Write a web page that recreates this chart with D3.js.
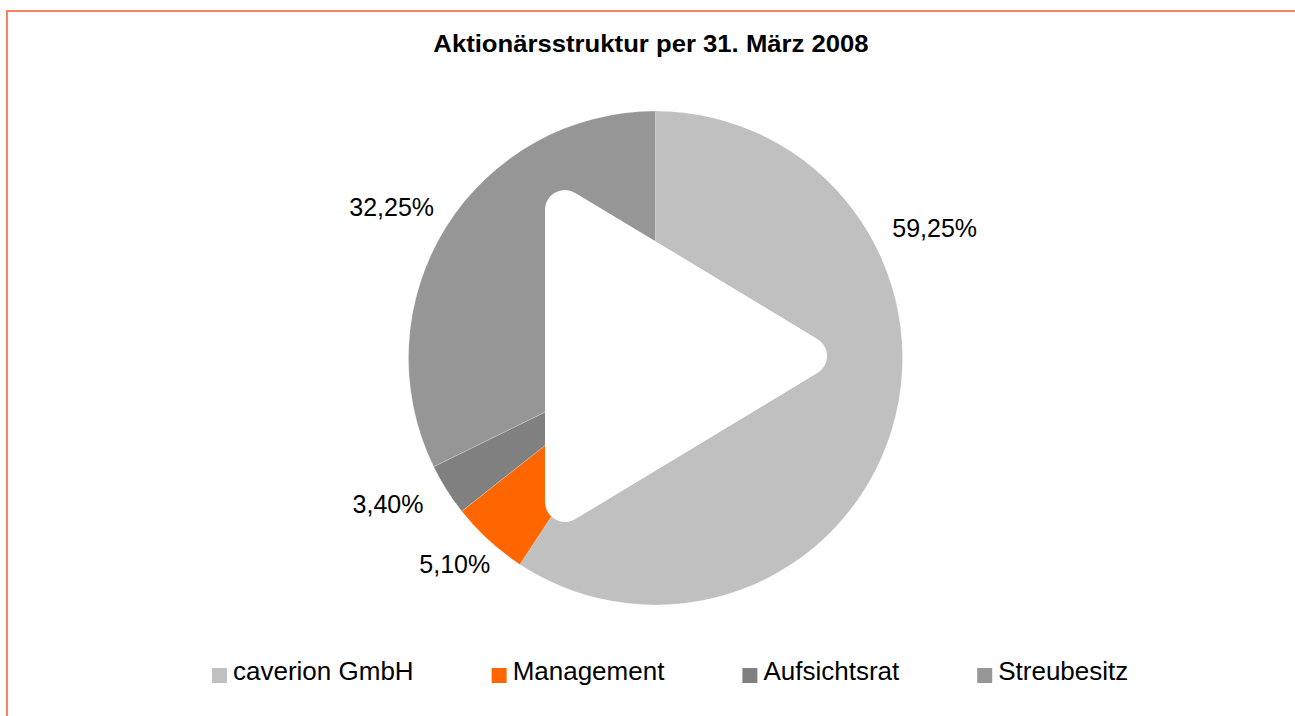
<!DOCTYPE html>
<html lang="de">
<head>
  <meta charset="UTF-8">
  <title>Aktionärsstruktur</title>
  <script src="https://d3js.org/d3.v7.min.js"></script>
  <style>
    body { margin: 0; background: #fff; }
    svg { display: block; font-family: "Liberation Sans", Arial, sans-serif; }
  </style>
</head>
<body>
  <div id="chart"></div>
  <script>
  // data
  const categories = ['caverion GmbH', 'Management', 'Aufsichtsrat', 'Streubesitz']
  const shares = [59.25, 5.10, 3.40, 32.25]
  const labels = ['59,25%', '5,10%', '3,40%', '32,25%']
  const colors = ['#c0c0c0', '#ff6600', '#808080', '#969696']

  const width = 1295, height = 716
  const cx = 655.5, cy = 358, radius = 247

  const svg = d3.select('#chart')
                .append('svg')
                .attr('width', width)
                .attr('height', height)

  // frame (only top and left edges are visible)
  svg.append('rect')
     .attr('x', 7)
     .attr('y', 11)
     .attr('width', width + 20)
     .attr('height', height + 20)
     .attr('fill', 'none')
     .attr('stroke', '#f6855f')
     .attr('stroke-width', 2)

  const title = svg.append('text')
     .attr('x', 651)
     .attr('y', 52)
     .attr('text-anchor', 'middle')
     .style('font-size', '24px')
     .style('font-weight', 'bold')
     .text('Aktionärsstruktur per 31. März 2008')
  // the original glyphs are a bit wider than Arial
  title.attr('textLength', title.node().getComputedTextLength() * 1.07)
       .attr('lengthAdjust', 'spacingAndGlyphs')

  const pie = d3.pie().sort(null).value(d => d)
  const arcs = pie(shares)
  const arc = d3.arc().innerRadius(0).outerRadius(radius)

  const g = svg.append('g').attr('transform', `translate(${cx},${cy})`)

  g.selectAll('path.slice')
   .data(arcs)
   .enter()
   .append('path')
   .attr('class', 'slice')
   .attr('d', arc)
   .attr('fill', (d, i) => colors[i])
   .attr('stroke', 'rgba(255,255,255,0.35)')
   .attr('stroke-width', 0.6)

  // label placement (degrees clockwise from 12 o'clock, distance from centre)
  const labelDeg = [65, 224.2, 241.3, 299.8]
  const labelRadius = [308, 288, 305, 304]
  const fs = 25

  g.selectAll('text.lbl')
   .data(arcs)
   .enter()
   .append('text')
   .attr('class', 'lbl')
   .attr('x', (d, i) => Math.sin(labelDeg[i] * Math.PI / 180) * labelRadius[i])
   .attr('y', (d, i) => -Math.cos(labelDeg[i] * Math.PI / 180) * labelRadius[i] + fs * 0.36)
   .attr('text-anchor', 'middle')
   .style('font-size', fs + 'px')
   .style('fill', '#000')
   .text((d, i) => labels[i])

  // white play-button overlay
  const r = 20
  const left = -110.5 + r, half = 146, midY = -2
  const tipX = left + 242
  svg.append('polygon')
     .attr('transform', `translate(${cx},${cy})`)
     .attr('points', `${left},${midY - half} ${tipX},${midY} ${left},${midY + half}`)
     .attr('fill', '#fff')
     .attr('stroke', '#fff')
     .attr('stroke-width', 2 * r)
     .attr('stroke-linejoin', 'round')

  // legend
  const legend = svg.append('g').attr('transform', 'translate(212, 668)')
  let lx = 0
  categories.forEach((c, i) => {
    legend.append('rect')
          .attr('x', lx)
          .attr('y', 0)
          .attr('width', 15)
          .attr('height', 15)
          .attr('fill', colors[i])
    const t = legend.append('text')
          .attr('x', lx + 21)
          .attr('y', 12)
          .style('font-size', '26px')
          .text(c)
    lx += 21 + t.node().getComputedTextLength() + 78
  })
  </script>
</body>
</html>
